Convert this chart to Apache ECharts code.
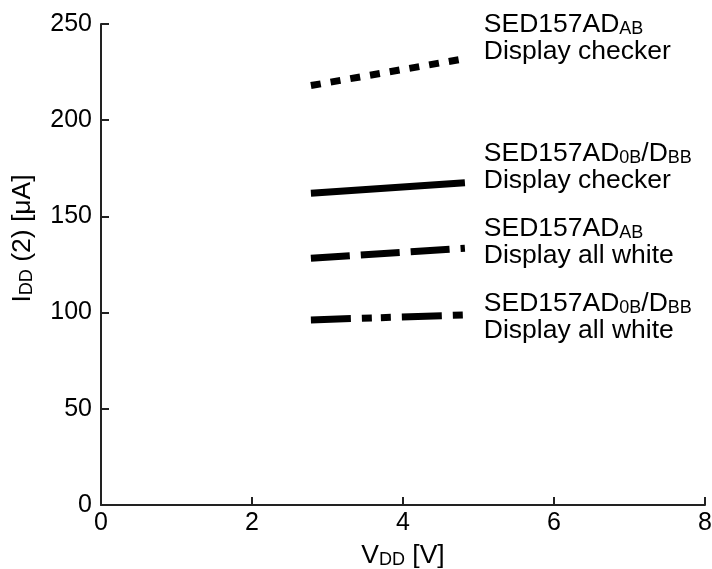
<!DOCTYPE html>
<html>
<head>
<meta charset="utf-8">
<script src="https://cdn.jsdelivr.net/npm/echarts@6/dist/echarts.min.js"></script>
<style>html,body{margin:0;padding:0;background:#fff;}#c{width:712px;height:569px;}</style>
</head>
<body>
<div id="c"></div>
<script>
// Data
var vdd = [2.78, 4.82];
var checkerAB = [218, 232];
var checker0B = [162, 167.5];
var whiteAB = [128.2, 133.5];
var white0B = [96.2, 98.8];
var labelX = [5.07, 5.07, 5.07, 5.07];
var labelY = [242.5, 175.5, 136.5, 97.7];
var labelLine1 = [['SED157AD', 'AB'], ['SED157AD', '0B', '/D', 'BB'], ['SED157AD', 'AB'], ['SED157AD', '0B', '/D', 'BB']];
var labelLine2 = ['Display checker', 'Display checker', 'Display all white', 'Display all white'];
var xTicks = [0, 2, 4, 6, 8];
var yTicks = [0, 50, 100, 150, 200, 250];

var FONT = "'Liberation Sans', Arial, Helvetica, sans-serif";
var BIG = 26.5, SMALL = 18;
var richStyles = {
  b: {fontSize: BIG, fontFamily: FONT, color: '#000', lineHeight: 27, verticalAlign: 'bottom'},
  s: {fontSize: SMALL, fontFamily: FONT, color: '#000', lineHeight: 23, verticalAlign: 'bottom'}
};

function labelText(i) {
  var p = labelLine1[i];
  var t = '';
  for (var k = 0; k < p.length; k++) {
    t += (k % 2 === 0 ? '{b|' : '{s|') + p[k] + '}';
  }
  return t + '\n{b|' + labelLine2[i] + '}';
}

function pairs(ys) { return vdd.map(function (x, i) { return [x, ys[i]]; }); }

var seriesDefs = [
  {data: checkerAB, dash: [10, 10]},
  {data: checker0B, dash: 'solid'},
  {data: whiteAB, dash: [39, 11]},
  {data: white0B, dash: [40, 11, 10, 9, 10, 11]}
];

var series = seriesDefs.map(function (d, i) {
  return {
    type: 'line',
    data: pairs(d.data),
    symbol: 'none',
    silent: true,
    animation: false,
    lineStyle: {color: '#000', width: 7, type: d.dash, cap: 'butt'},
    markPoint: {
      symbol: 'circle',
      symbolSize: 0,
      silent: true,
      animation: false,
      data: [{
        coord: [labelX[i], labelY[i]],
        label: {
          show: true,
          position: 'right',
          distance: 0,
          align: 'left',
          formatter: labelText(i),
          rich: richStyles
        }
      }]
    }
  };
});

var chart = echarts.init(document.getElementById('c'), null, {renderer: 'canvas'});
chart.setOption({
  animation: false,
  backgroundColor: '#fff',
  grid: {left: 101, right: 7, top: 24, bottom: 64, containLabel: false, outerBoundsMode: 'none'},
  xAxis: {
    type: 'value', min: xTicks[0], max: xTicks[xTicks.length - 1], interval: 2,
    name: '{b|V}{s|DD}{b| [V]}',
    nameLocation: 'middle', nameGap: 37,
    nameTextStyle: {rich: richStyles},
    axisLine: {show: true, lineStyle: {color: '#222', width: 2}},
    axisTick: {show: true, inside: true, length: 8, lineStyle: {color: '#222', width: 2}},
    axisLabel: {margin: 6, fontSize: 25, fontFamily: FONT, color: '#000'},
    splitLine: {show: false}
  },
  yAxis: {
    type: 'value', min: yTicks[0], max: yTicks[yTicks.length - 1], interval: 50,
    name: '{b|I}{s|DD}{b| (2) [μA]}',
    nameLocation: 'middle', nameGap: 65, nameRotate: 90,
    nameTextStyle: {rich: richStyles, padding: [0, 0, 0, 52]},
    axisLine: {show: true, lineStyle: {color: '#222', width: 2}},
    axisTick: {show: true, inside: true, length: 8, lineStyle: {color: '#222', width: 2}},
    axisLabel: {margin: 9, fontSize: 25, fontFamily: FONT, color: '#000'},
    splitLine: {show: false}
  },
  series: series
});
</script>
</body>
</html>
